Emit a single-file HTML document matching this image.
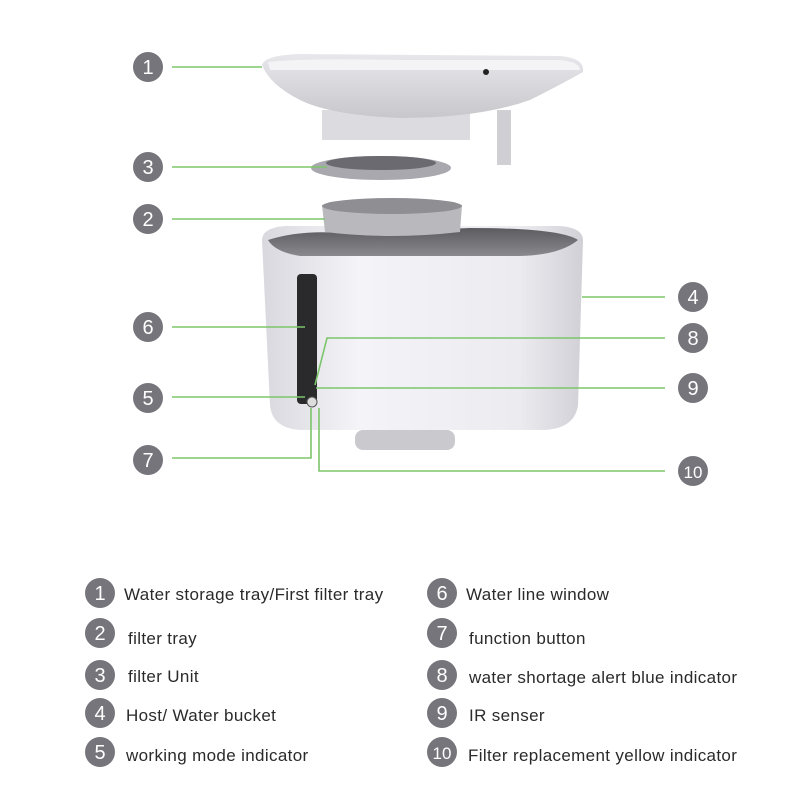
<!DOCTYPE html>
<html><head><meta charset="utf-8"><style>
html,body{margin:0;padding:0;background:#fff;}
.t{font-family:"Liberation Sans",sans-serif;font-size:17px;letter-spacing:0.35px;fill:#2a2a2a;}
.n{font-family:"Liberation Sans",sans-serif;font-size:20px;fill:#fff;text-anchor:middle;}
</style></head><body>
<svg width="800" height="800" viewBox="0 0 800 800" xmlns="http://www.w3.org/2000/svg">
<defs>
<linearGradient id="body" x1="0" x2="1"><stop offset="0" stop-color="#d8d8de"/><stop offset="0.3" stop-color="#f4f4f8"/><stop offset="0.8" stop-color="#ececf0"/><stop offset="1" stop-color="#d0d0d6"/></linearGradient>
<linearGradient id="inner" x1="0" y1="0" x2="0" y2="1"><stop offset="0" stop-color="#5c5c60"/><stop offset="1" stop-color="#8a8a8e"/></linearGradient>
<linearGradient id="tray" x1="0" y1="0" x2="0" y2="1"><stop offset="0" stop-color="#e8e8ec"/><stop offset="1" stop-color="#c8c8cc"/></linearGradient>
</defs>
<rect x="355" y="430" width="100" height="20" rx="8" fill="#c9c9ce"/>
<path d="M262 240 Q262 228 285 226 L560 226 Q583 228 583 240 L578 405 Q575 428 545 430 L300 430 Q272 428 270 405 Z" fill="url(#body)"/>
<path d="M268 240 Q300 230 340 233 L470 228 Q560 228 578 240 Q560 255 520 256 L300 256 Q275 252 268 240Z" fill="url(#inner)"/>
<path d="M322 205 L462 205 L460 232 Q390 240 325 232 Z" fill="#b8b8bd"/>
<ellipse cx="392" cy="206" rx="70" ry="8" fill="#8e8e93"/>
<rect x="297" y="274" width="20" height="130" rx="4" fill="#2a2a2c"/>
<circle cx="312" cy="402" r="5" fill="#ddd" stroke="#555"/>
<ellipse cx="381" cy="168" rx="70" ry="12" fill="#a8a8ae"/>
<ellipse cx="381" cy="163" rx="55" ry="7" fill="#6a6a70"/>
<rect x="322" y="110" width="148" height="30" fill="#dcdce0"/>
<rect x="497" y="110" width="14" height="55" fill="#cfcfd4"/>
<path d="M262 65 Q265 55 300 54 L560 56 Q585 58 583 72 Q560 85 530 100 Q480 118 400 118 Q330 115 300 100 Q270 85 262 65Z" fill="url(#tray)"/>
<path d="M268 62 Q300 58 400 60 L560 60 Q580 62 580 70 L270 70Z" fill="#f4f4f6"/>
<circle cx="486" cy="72" r="3" fill="#222"/>
<g stroke="#7cc56b" stroke-width="1.6" fill="none">
<path d="M172 67 L262 67"/>
<path d="M172 167 L327 167"/>
<path d="M172 219 L325 219"/>
<path d="M582 297 L665 297"/>
<path d="M172 327 L305 327"/>
<path d="M665 338 L327 338 L315 385"/>
<path d="M172 397 L305 397"/>
<path d="M665 388 L316 388"/>
<path d="M172 458 L311 458 L311 408"/>
<path d="M665 471 L319 471 L319 408"/>
</g>
<g fill="#75757b">
<circle cx="148" cy="67" r="15"/><circle cx="148" cy="167" r="15"/><circle cx="148" cy="219" r="15"/>
<circle cx="148" cy="327" r="15"/><circle cx="148" cy="398" r="15"/><circle cx="148" cy="460" r="15"/>
<circle cx="693" cy="297" r="15"/><circle cx="693" cy="338" r="15"/><circle cx="693" cy="388" r="15"/><circle cx="693" cy="471" r="15"/>
</g>
<g class="n">
<text x="148" y="74">1</text><text x="148" y="174">3</text><text x="148" y="226">2</text>
<text x="148" y="334">6</text><text x="148" y="405">5</text><text x="148" y="467">7</text>
<text x="693" y="304">4</text><text x="693" y="345">8</text><text x="693" y="395">9</text><text x="693" y="478" style="font-size:17px">10</text>
</g>
<g fill="#75757b">
<circle cx="100" cy="593" r="15"/><circle cx="100" cy="633" r="15"/><circle cx="100" cy="675" r="15"/><circle cx="100" cy="713" r="15"/><circle cx="100" cy="752" r="15"/>
<circle cx="442" cy="593" r="15"/><circle cx="442" cy="633" r="15"/><circle cx="442" cy="675" r="15"/><circle cx="442" cy="713" r="15"/><circle cx="442" cy="752" r="15"/>
</g>
<g class="n">
<text x="100" y="600">1</text><text x="100" y="640">2</text><text x="100" y="682">3</text><text x="100" y="720">4</text><text x="100" y="759">5</text>
<text x="442" y="600">6</text><text x="442" y="640">7</text><text x="442" y="682">8</text><text x="442" y="720">9</text><text x="442" y="759" style="font-size:17px">10</text>
</g>
<g class="t">
<text x="124" y="600">Water storage tray/First filter tray</text>
<text x="128" y="644">filter tray</text>
<text x="128" y="682">filter Unit</text>
<text x="126" y="721">Host/ Water bucket</text>
<text x="126" y="761">working mode indicator</text>
<text x="466" y="600">Water line window</text>
<text x="469" y="644">function button</text>
<text x="469" y="683">water shortage alert blue indicator</text>
<text x="469" y="721">IR senser</text>
<text x="468" y="761">Filter replacement yellow indicator</text>
</g>
</svg>
</body></html>
